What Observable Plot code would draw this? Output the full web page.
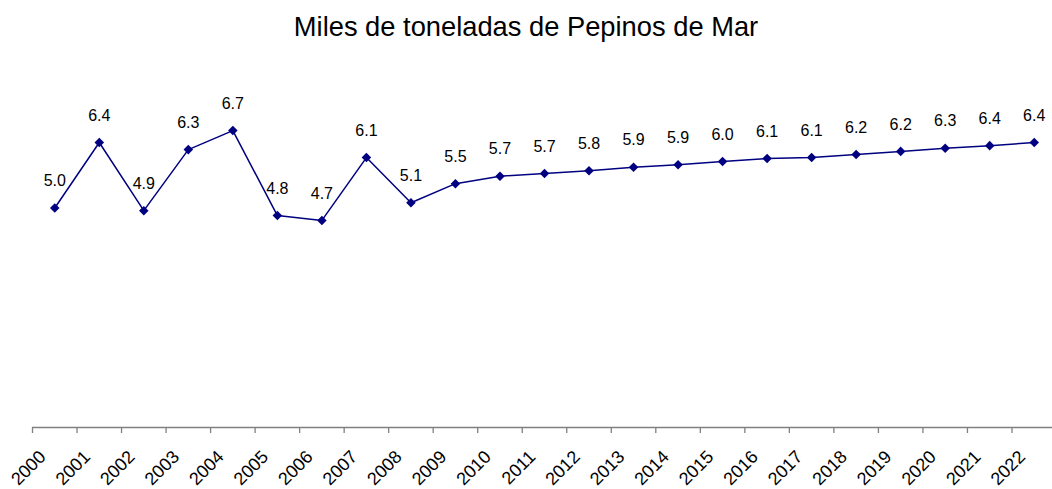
<!DOCTYPE html>
<html>
<head>
<meta charset="utf-8">
<script src="https://cdn.jsdelivr.net/npm/d3@7"></script>
<script src="https://cdn.jsdelivr.net/npm/@observablehq/plot@0.6"></script>
<style>
  body { margin: 0; background: #fff; font-family: "Liberation Sans", Arial, sans-serif; }
  #title { height: 50px; line-height: 54px; text-align: center; font-size: 27.3px; color: #000; }
  svg { display: block; }
</style>
</head>
<body>
<div id="title">Miles de toneladas de Pepinos de Mar</div>
<div id="chart"></div>
<script>
const years = [2000, 2001, 2002, 2003, 2004, 2005, 2006, 2007, 2008, 2009, 2010, 2011,
               2012, 2013, 2014, 2015, 2016, 2017, 2018, 2019, 2020, 2021, 2022];
const values = [4.96, 6.44, 4.90, 6.28, 6.71, 4.79, 4.68, 6.10, 5.08, 5.51, 5.68, 5.74,
                5.80, 5.88, 5.94, 6.01, 6.08, 6.10, 6.17, 6.24, 6.31, 6.37, 6.44];
const valueLabels = ["5.0", "6.4", "4.9", "6.3", "6.7", "4.8", "4.7", "6.1", "5.1", "5.5", "5.7", "5.7",
                     "5.8", "5.9", "5.9", "6.0", "6.1", "6.1", "6.2", "6.2", "6.3", "6.4", "6.4"];

const data = years.map((y, i) => ({year: y, value: values[i], label: valueLabels[i]}));
const boundaries = years.concat([years[years.length - 1] + 1]).map(y => y - 0.5);

const chart = Plot.plot({
  width: 1052,
  height: 439,
  marginLeft: 32,
  marginRight: -4,
  marginTop: 23,
  marginBottom: 62,
  style: {fontFamily: "Liberation Sans, Arial, sans-serif", fontSize: "16px", color: "#000", background: "#fff", overflow: "visible"},
  x: {domain: [1999.5, 2022.5], label: null, axis: null},
  y: {domain: [0, 8], axis: null},
  marks: [
    Plot.ruleY([0], {stroke: "#808080", strokeWidth: 1.3}),
    Plot.axisX({ticks: boundaries, tickFormat: () => "", tickSize: 6, stroke: "#808080", strokeWidth: 1.3, strokeOpacity: 1, label: null}),
    Plot.text(years, {x: d => d, text: d => String(d), frameAnchor: "bottom", rotate: -45, textAnchor: "end",
                      fontSize: 18, fill: "#000", dx: -8, dy: 30.5}),
    Plot.line(data, {x: "year", y: "value", stroke: "#000080", strokeWidth: 1.5}),
    Plot.dot(data, {x: "year", y: "value", symbol: "diamond2", r: 4.3, fill: "#000080", stroke: "none"}),
    Plot.text(data, {x: "year", y: "value", text: "label", dy: -27, fontSize: 16, fill: "#000"})
  ]
});
document.getElementById("chart").appendChild(chart);
</script>
</body>
</html>
